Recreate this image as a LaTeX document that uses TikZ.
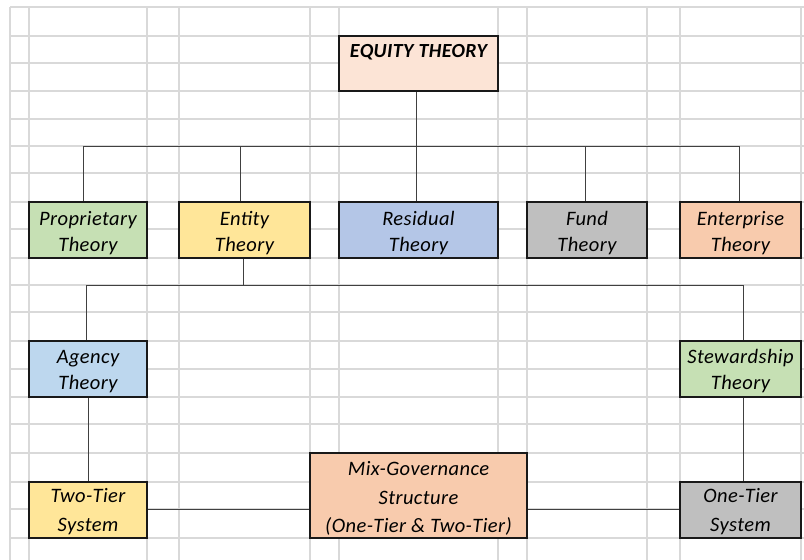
\documentclass[tikz,border=0pt]{standalone}
\usepackage{fontspec}
\setmainfont{Carlito}[LetterSpace=2]
\definecolor{gridc}{HTML}{D9D9D9}
\definecolor{cPeachL}{HTML}{FCE4D6}
\definecolor{cGreen}{HTML}{C6E0B4}
\definecolor{cYellow}{HTML}{FFE699}
\definecolor{cBlue}{HTML}{B4C6E7}
\definecolor{cLBlue}{HTML}{BDD7EE}
\definecolor{cGray}{HTML}{BFBFBF}
\definecolor{cOrange}{HTML}{F8CBAD}
\definecolor{lineC}{HTML}{404040}
\newcommand\fl[1]{\rule{0pt}{#1pt}}
\begin{document}
\begin{tikzpicture}[x=1pt,y=-1pt,
  box/.style={draw=black!90, line width=1.7pt, rectangle, inner sep=0pt, align=center,
    font=\fontsize{20.5}{26}\selectfont\itshape},
  rowa/.style={font=\fontsize{20.5}{26.6}\selectfont\itshape},
  rowb/.style={font=\fontsize{20.5}{28.4}\selectfont\itshape},
  conn/.style={draw=lineC, line width=1pt},
  gridline/.style={draw=gridc, line width=1.1pt}]
\useasboundingbox (0,0) rectangle (804,560);
\fill[white] (0,0) rectangle (804,560);
% spreadsheet grid
\foreach \x in {10,29,147,179,310,339,498,527,647,680,801}
  \draw[gridline] (\x,7) -- (\x,560);
\foreach \y in {7,36,63,91,119,146,173,202,229,258,285,312,341,369,397,424,453,482,509,538}
  \draw[gridline] (10,\y) -- (804,\y);
% nodes
\node[box, fill=cPeachL, minimum width=159pt, minimum height=55pt,
  label={[anchor=base, yshift=-22pt, font=\fontsize{20}{27}\selectfont\itshape\bfseries, inner sep=0pt]north:EQUITY THEORY}] (eq) at (418.5,63.5) {};
\node[box, fill=cGreen, minimum width=118pt, minimum height=56pt] (prop) at (88,230) {\fl{20}Proprietary\\Theory};
\node[box, fill=cYellow, minimum width=131pt, minimum height=56pt] (ent) at (244.5,230) {\fl{20}Entity\\Theory};
\node[box, fill=cBlue, minimum width=159pt, minimum height=56pt] (res) at (418.5,230) {\fl{20}Residual\\Theory};
\node[box, fill=cGray, minimum width=120pt, minimum height=56pt] (fund) at (587,230) {\fl{20}Fund\\Theory};
\node[box, fill=cOrange, minimum width=121pt, minimum height=56pt] (entp) at (740.5,230) {\fl{20}Enterprise\\Theory};
\node[box, rowa, fill=cLBlue, minimum width=118pt, minimum height=56pt] (agen) at (88,369) {\fl{18}Agency\\Theory};
\node[box, rowa, fill=cGreen, minimum width=121pt, minimum height=56pt] (stew) at (740.5,369) {\fl{18}Stewardship\\Theory};
\node[box, rowb, fill=cYellow, minimum width=118pt, minimum height=56pt] (two) at (88,510) {\fl{17}Two-Tier\\System};
\node[box, fill=cOrange, minimum width=217pt, minimum height=85pt, font=\fontsize{20.5}{28.5}\selectfont\itshape] (mix) at (418.5,495.5) {\fl{20}Mix-Governance\\Structure\\(One-Tier \& Two-Tier)};
\node[box, rowb, fill=cGray, minimum width=121pt, minimum height=56pt] (one) at (740.5,510) {\fl{17}One-Tier\\System};
% bus coordinates
\coordinate (b1) at (416,146);
\coordinate (b2) at (243,285);
% connectors
\draw[conn] (eq.south -| b1) -- (b1);
\draw[conn] (83,146) -- (739,146);
\draw[conn] (83,146) -- (prop.north -| 83,0);
\draw[conn] (240,146) -- (ent.north -| 240,0);
\draw[conn] (b1) -- (res.north -| b1);
\draw[conn] (585,146) -- (fund.north -| 585,0);
\draw[conn] (739,146) -- (entp.north -| 739,0);
\draw[conn] (ent.south -| b2) -- (b2);
\draw[conn] (86,285) -- (743,285);
\draw[conn] (86,285) -- (agen.north -| 86,0);
\draw[conn] (743,285) -- (stew.north -| 743,0);
\draw[conn] (agen.south -| 88,0) -- (two.north -| 88,0);
\draw[conn] (stew.south -| 743,0) -- (one.north -| 743,0);
\draw[conn] (two.east |- 0,509) -- (mix.west |- 0,509);
\draw[conn] (mix.east |- 0,509) -- (one.west |- 0,509);
\end{tikzpicture}
\end{document}
